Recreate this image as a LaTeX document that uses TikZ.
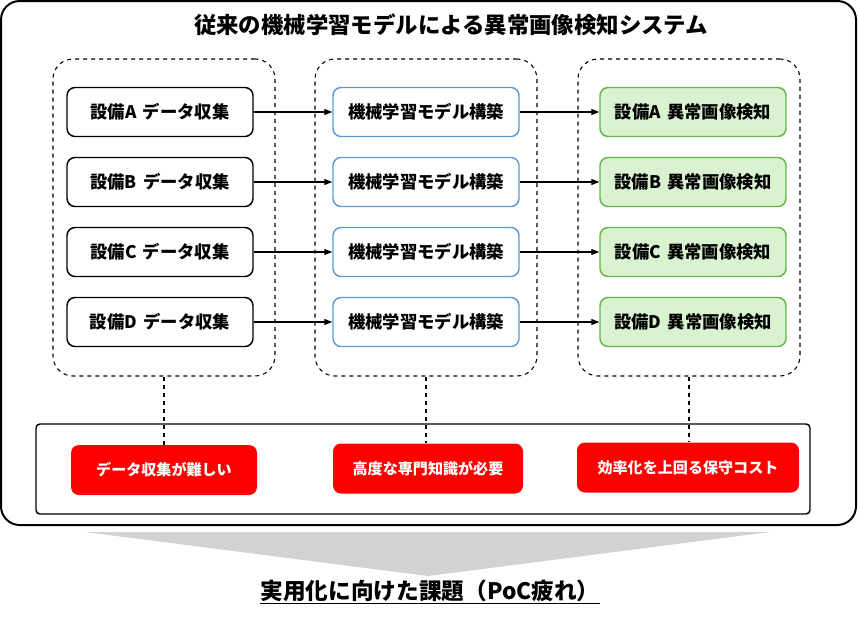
\documentclass[tikz,border=0pt]{standalone}
\usepackage{fontspec}
\setmainfont{Noto Sans CJK JP}
\usetikzlibrary{arrows.meta,positioning}

\definecolor{modelblue}{RGB}{91,155,213}
\definecolor{okgreen}{RGB}{104,180,70}
\definecolor{okfill}{RGB}{217,242,208}
\definecolor{wedgegray}{RGB}{210,210,210}

\begin{document}
\begin{tikzpicture}[x=0.75pt,y=-0.75pt,
    group/.style={draw,dashed,line width=0.8pt,rounded corners=15pt,minimum width=166.5pt,minimum height=237.75pt},
    box/.style={draw,rounded corners=6pt,line width=1.1pt,minimum width=139.5pt,minimum height=36.75pt,
        font=\fontsize{13}{15}\selectfont\bfseries},
    issue/.style={fill=red,rounded corners=6pt,text=white,minimum height=37.5pt,
        font=\fontsize{11.3}{13}\selectfont\bfseries},
    arr/.style={-{Triangle[length=6pt,width=4.5pt]},line width=0.9pt}]
    \useasboundingbox (0,0) rectangle (858,625);

    % Frame and title
    \draw[line width=1.5pt,rounded corners=14pt] (1,1) rectangle (856,525);
    \node[font=\fontsize{16.8}{20}\selectfont\bfseries] (title) at (451,25) {従来の機械学習モデルによる異常画像検知システム};

    % Three stages
    \node[group] (grpData) at (164,217.5) {};
    \node[group] (grpModel) at (426,217.5) {};
    \node[group] (grpDetect) at (689,217.5) {};

    \foreach \n/\y in {A/112,B/182,C/252,D/322} {
        \node[box] (data\n) at (160,\y) {設備\n\hspace{0.35em}データ収集};
        \node[box,draw=modelblue] (model\n) at (426,\y) {機械学習モデル構築};
        \node[box,draw=okgreen,fill=okfill] (detect\n) at (693,\y) {設備\n\hspace{0.35em}異常画像検知};
        \draw[arr] (data\n) -- (model\n);
        \draw[arr] (model\n) -- (detect\n);
    }

    % Problems
    \draw[line width=1.1pt,rounded corners=3pt] (36,424) rectangle (810,514);
    \node[issue,minimum width=139.5pt] (issueData) at (164,470) {データ収集が難しい};
    \node[issue,minimum width=142.5pt] (issueSkill) at (428,468.5) {高度な専門知識が必要};
    \node[issue,minimum width=166.5pt] (issueCost) at (688,467.5) {効率化を上回る保守コスト};

    \draw[dashed,line width=0.8pt] (grpData.south) -- (issueData.north);
    \draw[dashed,line width=0.8pt] (grpModel.south) -- (grpModel.south |- issueSkill.north);
    \draw[dashed,line width=0.8pt] (grpDetect.south) -- (grpDetect.south |- issueCost.north);

    % Funnel to the summary
    \fill[wedgegray] (85,532) -- (770,532) -- (428,576) -- cycle;
    \node[font=\fontsize{17}{20}\selectfont\bfseries] (summary) at (430,592) {\underline{実用化に向けた課題（PoC疲れ）}};
\end{tikzpicture}
\end{document}
